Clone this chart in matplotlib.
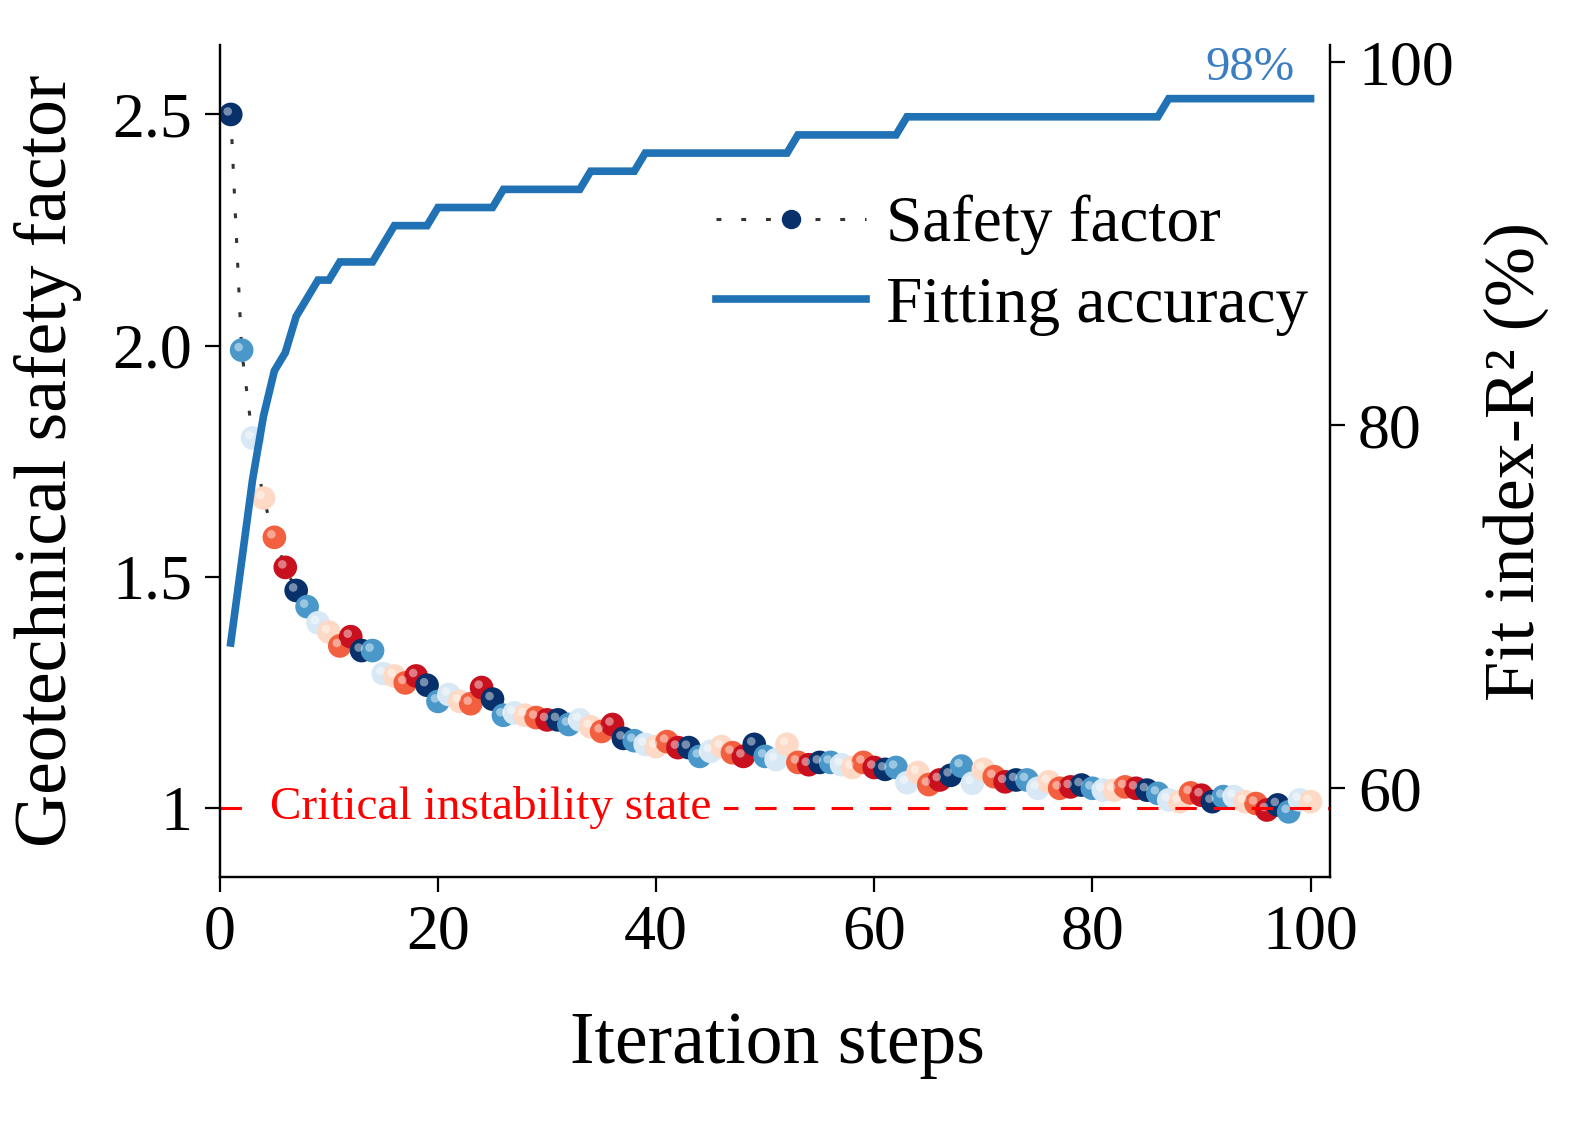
import numpy as np
import matplotlib
matplotlib.use('Agg')
import matplotlib.pyplot as plt
import matplotlib.transforms as mtrans
from matplotlib.lines import Line2D

plt.rcParams['font.family'] = ['Liberation Serif', 'DejaVu Serif']

# data
steps = np.arange(1, 101)

safety = [2.50, 1.99, 1.80, 1.67, 1.585, 1.52, 1.47, 1.435, 1.40, 1.38,
          1.35, 1.37, 1.34, 1.34, 1.29, 1.285, 1.27, 1.285, 1.265, 1.23,
          1.245, 1.23, 1.225, 1.26, 1.235, 1.20, 1.205, 1.20, 1.195, 1.19,
          1.19, 1.18, 1.19, 1.175, 1.165, 1.18, 1.15, 1.145, 1.137, 1.132,
          1.143, 1.13, 1.13, 1.111, 1.122, 1.132, 1.119, 1.111, 1.137, 1.111,
          1.104, 1.137, 1.098, 1.093, 1.098, 1.098, 1.093, 1.087, 1.098, 1.087,
          1.083, 1.087, 1.054, 1.076, 1.05, 1.06, 1.07, 1.09, 1.053, 1.083,
          1.067, 1.056, 1.06, 1.06, 1.042, 1.056, 1.042, 1.045, 1.049, 1.042,
          1.038, 1.038, 1.045, 1.042, 1.038, 1.031, 1.017, 1.013, 1.032, 1.027,
          1.013, 1.024, 1.024, 1.013, 1.009, 0.995, 1.006, 0.991, 1.017, 1.013]

fit_r2 = ([68, 72.5, 77, 80.5, 83, 84, 86, 87, 88, 88,
           89, 89, 89, 89, 90, 91, 91, 91, 91]
          + [92] * 6 + [93] * 8 + [94] * 5 + [95] * 14
          + [96] * 10 + [97] * 24 + [98] * 14)

point_colors = ['#08306b', '#4a98c9', '#d8e8f5', '#fdd9c6', '#f2603f', '#c8101e']

# figure
fig = plt.figure(figsize=(15.93, 11.28), dpi=100)
ax = fig.add_axes([0.138, 0.2225, 0.697, 0.7375])
ax2 = ax.twinx()

cols = [point_colors[i % 6] for i in range(len(steps))]

ax.plot(steps, safety, color='#333333', lw=2.2, dashes=(1.6, 6.5), zorder=2)
ax.scatter(steps, safety, s=290, c=cols, edgecolors='none', zorder=3)
# little highlight so the balls look shiny
hl = mtrans.offset_copy(ax.transData, fig=fig, x=-3, y=3, units='dots')
ax.scatter(steps, safety, s=38, c='white', alpha=0.45, edgecolors='none',
           transform=hl, zorder=3.5)

ax.axhline(1, color='red', lw=2.2, dashes=(7, 5.5), zorder=4)
ax.text(4.6, 1, 'Critical instability state', color='red', fontsize=34,
        va='center', ha='left', zorder=5,
        bbox=dict(facecolor='white', edgecolor='none', pad=9))

ax2.plot(steps, fit_r2, color='#2171b5', lw=5.5, solid_joinstyle='miter', zorder=3)
ax2.text(98.5, 98.5, '98%', color='#3a7dc2', fontsize=35, ha='right', va='bottom')

ax.set_xlim(0, 101.8)
ax.set_ylim(0.85, 2.65)
ax2.set_ylim(55.1, 100.95)

ax.set_xticks([0, 20, 40, 60, 80, 100])
ax.set_yticks([1, 1.5, 2.0, 2.5])
ax.set_yticklabels(['1', '1.5', '2.0', '2.5'])
ax2.set_yticks([60, 80, 100])

for a in (ax, ax2):
    a.spines['top'].set_visible(False)
    for s in a.spines.values():
        s.set_linewidth(1.6)
    a.tick_params(direction='out', length=11, width=1.6, labelsize=46, pad=9)

ax.set_xlabel('Iteration steps', fontsize=53, va='center')
ax.xaxis.set_label_coords(0.502, -0.202)
ax.set_ylabel('Geotechnical safety factor', fontsize=53, va='center')
ax.yaxis.set_label_coords(-0.155, 0.5)
ax2.set_ylabel('Fit index-R\u00b2 (%)', fontsize=52, rotation=90, va='center')
ax2.yaxis.set_label_coords(1.167, 0.5)

h1 = Line2D([], [], color='#333333', lw=2.2, dashes=(1.6, 6.5),
            marker='o', markersize=14, markerfacecolor='#08306b',
            markeredgecolor='none')
h2 = Line2D([], [], color='#2171b5', lw=5.5)
ax2.legend([h1, h2], ['Safety factor', 'Fitting accuracy'], fontsize=47,
           frameon=False, loc='upper left', bbox_to_anchor=(0.447, 0.82),
           handlelength=2.3, handletextpad=0.3, labelspacing=0.32,
           borderpad=0, borderaxespad=0)

fig.savefig('out.png', dpi=100)
